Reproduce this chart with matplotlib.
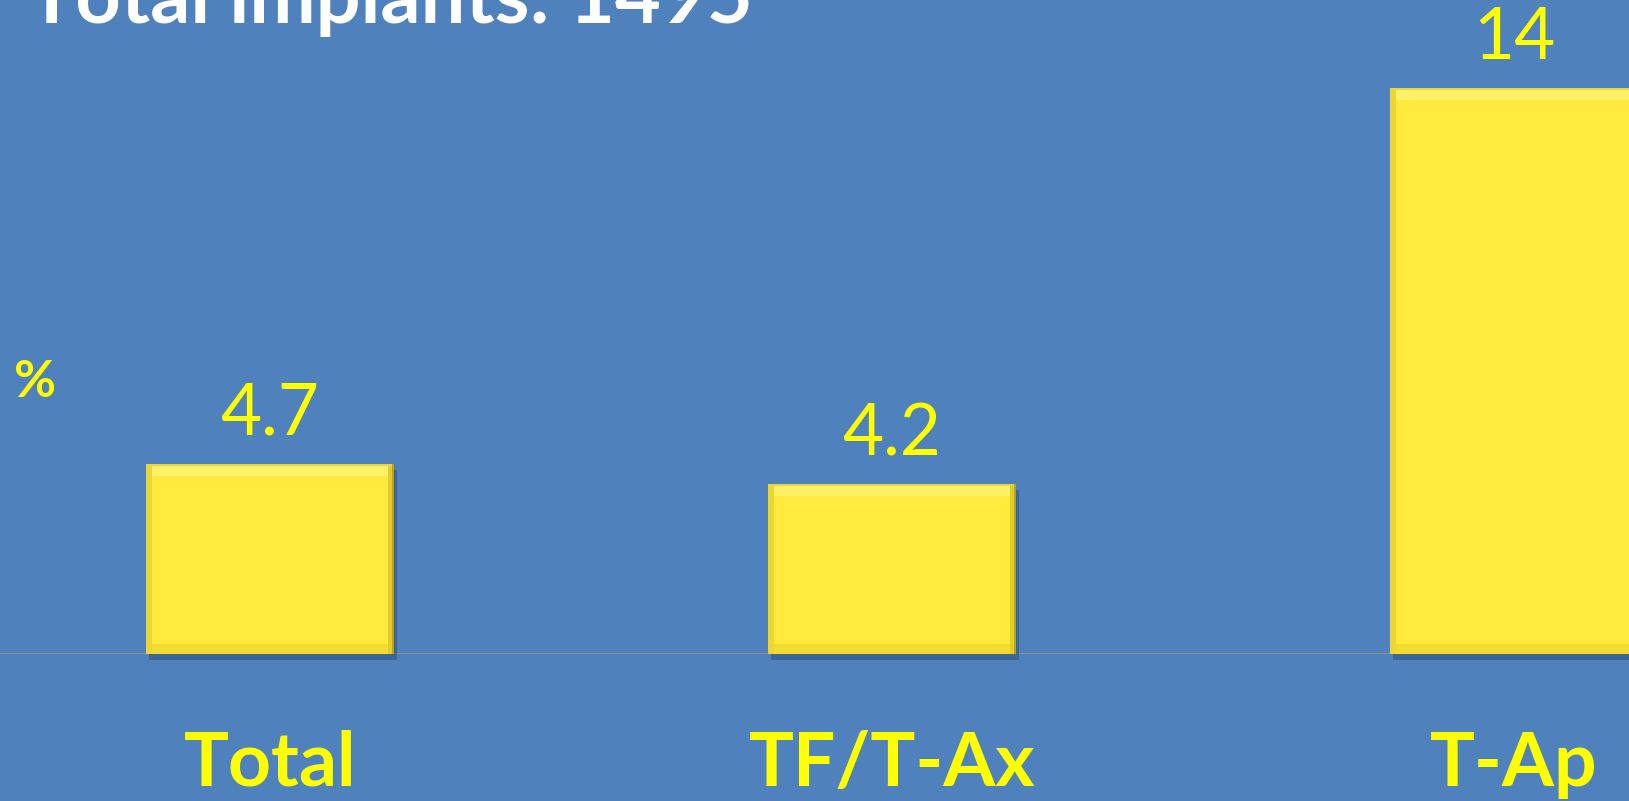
import matplotlib
matplotlib.use('Agg')
import matplotlib.pyplot as plt
from matplotlib.patches import Rectangle

categories = ['Total', 'TF/T-Ax', 'T-Ap']
values = [4.7, 4.2, 14]
value_labels = ['4.7', '4.2', '14']
title = 'Total implants: 1495'

bg = '#4F81BD'
bar_yellow = '#FFEA3D'
text_yellow = '#FFFF00'

fig = plt.figure(figsize=(16.29, 8.01), dpi=100, facecolor=bg)
ax = fig.add_axes([0, 0.1835, 1, 0.8165], facecolor=bg)
ax.set_xlim(-0.434, 2.185)
ax.set_ylim(0, 16.19)
for s in ax.spines.values():
    s.set_visible(False)
ax.set_xticks([])
ax.set_yticks([])

x = list(range(len(categories)))
bars = ax.bar(x, values, width=0.4, color=bar_yellow, zorder=3)

# px -> data helpers
dx = 1 / 622.0
dy = 16.19 / 654.0

for b in bars:
    x0, w, h = b.get_x(), b.get_width(), b.get_height()
    # drop shadow
    ax.add_patch(Rectangle((x0 + 3 * dx, -6 * dy), w, h, color='#2F4F77',
                           alpha=0.55, zorder=2, clip_on=False, lw=0))
    # bevel: top highlight, bottom/side darker
    ax.add_patch(Rectangle((x0, h - 12 * dy), w, 12 * dy, color='#FFF06A', zorder=4, lw=0))
    ax.add_patch(Rectangle((x0, h - 2 * dy), w, 2 * dy, color='#E8D640', zorder=5, lw=0))
    ax.add_patch(Rectangle((x0, 0), w, 10 * dy, color='#F2DC30', zorder=4, lw=0))
    ax.add_patch(Rectangle((x0, 0), 6 * dx, h, color='#EDD632', zorder=4, lw=0))
    ax.add_patch(Rectangle((x0 + w - 6 * dx, 0), 6 * dx, h, color='#E3CB2A', zorder=4, lw=0))
    ax.add_patch(Rectangle((x0 + w - 2 * dx, 0), 2 * dx, h, color='#B8A420', zorder=5, lw=0))

ax.axhline(0, color='#8F8F8F', lw=1.5, zorder=1)

for xi, v, lab in zip(x, values, value_labels):
    ax.annotate(lab, (xi, v), xytext=(0, 21), textcoords='offset points',
                ha='center', va='baseline', color=text_yellow,
                fontsize=51, family='Lato', annotation_clip=False)

for xi, c in zip(x, categories):
    ax.text(xi, -110 / 654.0, c, transform=ax.get_xaxis_transform(),
            ha='center', va='center', color=text_yellow, fontsize=54,
            fontweight='bold', family='Lato')

fig.text(14 / 1629, 1 - 382 / 801, '%', ha='left', va='center', color=text_yellow,
         fontsize=37, fontweight='bold', family='Lato')

fig.text(28 / 1629, 1 - 23 / 801, title, ha='left', va='baseline', color='white',
         fontsize=57, fontweight='bold', family='Lato')

fig.savefig('out.png', dpi=100, facecolor=bg)
